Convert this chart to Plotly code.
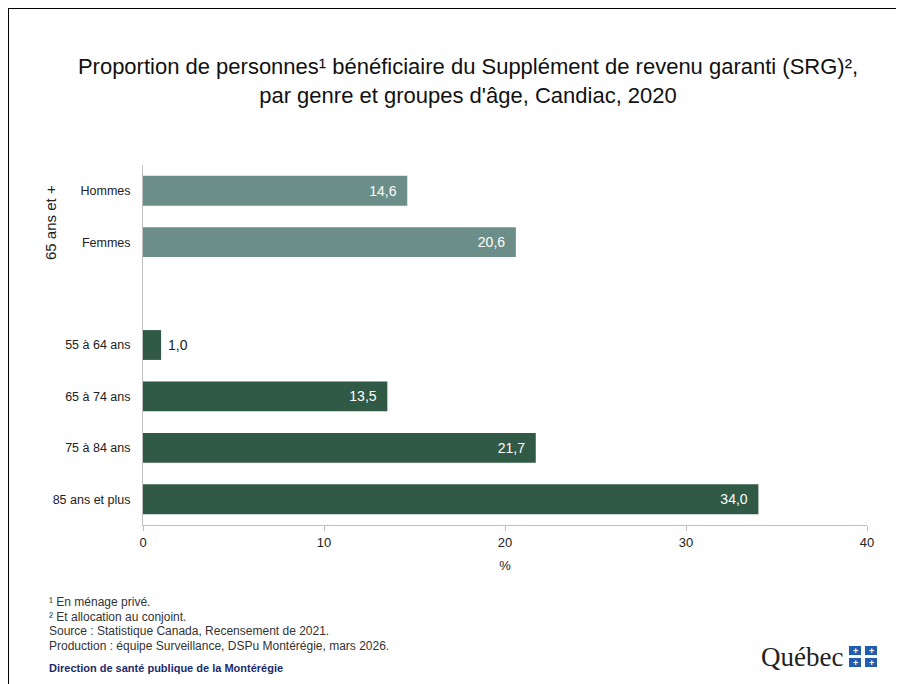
"""Proportion de personnes bénéficiaire du SRG, Candiac, 2020."""
import plotly.graph_objects as go

# Data
categories = ["Hommes", "Femmes", "", "55 à 64 ans", "65 à 74 ans", "75 à 84 ans", "85 ans et plus"]
values = [14.6, 20.6, None, 1.0, 13.5, 21.7, 34.0]
light_green = "#6b8f88"
dark_green = "#305a45"
bar_colors = [light_green, light_green, dark_green, dark_green, dark_green, dark_green, dark_green]
x_ticks = [0, 10, 20, 30, 40]

footnotes = [
    "¹ En ménage privé.",
    "² Et allocation au conjoint.",
    "Source : Statistique Canada, Recensement de 2021.",
    "Production : équipe Surveillance, DSPu Montérégie, mars 2026.",
]
footnote_y = [602, 617, 631, 646]

# Figure geometry (screen pixels). The page body adds an 8px offset.
OFF = 8
W, H = 904, 684
plot_left, plot_right, plot_top, plot_bottom = 143, 867, 165, 525
L = plot_left - OFF
R = W - (plot_right - OFF)
T = plot_top - OFF
B = H - (plot_bottom - OFF)
PW, PH = plot_right - plot_left, plot_bottom - plot_top


def px(x):
    return (x - plot_left) / PW


def py(y):
    return (plot_bottom - y) / PH


positions = list(range(len(categories)))
bar_x = [v for v in values if v is not None]
bar_y = [p for p, v in zip(positions, values) if v is not None]
colors = [c for c, v in zip(bar_colors, values) if v is not None]
nb = "\u00a0"
labels = [
    (nb + f"{v:.1f}".replace(".", ",")) if v < 5 else (f"{v:.1f}".replace(".", ",") + nb * 2)
    for v in bar_x
]
text_pos = ["outside" if v < 5 else "inside" for v in bar_x]
text_col = ["#222222" if v < 5 else "white" for v in bar_x]

fig = go.Figure()
fig.add_trace(go.Bar(
    x=bar_x,
    y=bar_y,
    orientation="h",
    marker=dict(color=colors, line=dict(width=0)),
    width=0.58,
    text=labels,
    textposition=text_pos,
    insidetextanchor="end",
    textfont=dict(color=text_col, size=14, family="Arial"),
    cliponaxis=False,
    hoverinfo="skip",
))

annotations = [
    dict(text="65 ans et +", textangle=-90, x=px(50), y=py(223),
         xref="paper", yref="paper", xanchor="center", yanchor="middle", showarrow=False,
         font=dict(size=15, color="#222222", family="Arial")),
    dict(text="<b>Direction de santé publique de la Montérégie</b>", x=px(47), y=py(668),
         xref="paper", yref="paper", xanchor="left", yanchor="middle", showarrow=False,
         font=dict(size=11, color="#1b2a6b", family="Arial")),
    dict(text="Québec", x=px(845), y=py(657), xref="paper", yref="paper",
         xanchor="right", yanchor="middle", showarrow=False,
         font=dict(size=27, color="#222222", family="Liberation Serif")),
]
for line, ly in zip(footnotes, footnote_y):
    annotations.append(dict(text=line, x=px(47), y=py(ly), xref="paper", yref="paper",
                            xanchor="left", yanchor="middle", showarrow=False,
                            font=dict(size=12, color="#333333", family="Arial")))

shapes = [
    # frame, cropped at right and bottom
    dict(type="rect", xref="paper", yref="paper", x0=px(8), y0=py(720), x1=px(940), y1=py(8),
         line=dict(color="black", width=2), fillcolor="rgba(0,0,0,0)", layer="below"),
]

# Québec flag logo: 4 blue squares
for sx, sy in [(849, 646), (865, 646), (849, 658), (865, 658)]:
    shapes.append(dict(type="rect", xref="paper", yref="paper",
                       x0=px(sx), x1=px(sx + 12), y0=py(sy + 9), y1=py(sy),
                       line=dict(width=0), fillcolor="#1f5eb0"))
    annotations.append(dict(text="<b>+</b>", x=px(sx + 6), y=py(sy + 4.5), xref="paper", yref="paper",
                            xanchor="center", yanchor="middle", showarrow=False,
                            font=dict(size=9, color="white", family="Arial")))

fig.update_layout(
    width=W,
    height=H,
    margin=dict(l=L, r=R, t=T, b=B),
    paper_bgcolor="white",
    plot_bgcolor="white",
    showlegend=False,
    title=dict(
        text="Proportion de personnes¹ bénéficiaire du Supplément de revenu garanti (SRG)²,"
             "<br>par genre et groupes d'âge, Candiac, 2020",
        x=(468 - OFF) / W, xanchor="center", xref="container",
        y=1 - (74 - OFF) / H, yanchor="top", yref="container",
        font=dict(size=22, color="#111111", family="Arial"),
    ),
    xaxis=dict(
        range=[0, 40],
        tickvals=x_ticks,
        ticks="outside",
        ticklen=5,
        tickcolor="#bfbfbf",
        showgrid=False,
        zeroline=False,
        showline=True,
        linecolor="#bfbfbf",
        linewidth=1,
        tickfont=dict(size=13, color="#222222", family="Arial"),
        title=dict(text="%", font=dict(size=13, color="#222222", family="Arial"), standoff=12),
    ),
    yaxis=dict(
        range=[len(categories) - 0.5, -0.5],
        tickvals=positions,
        ticktext=categories,
        ticks="",
        showgrid=False,
        zeroline=False,
        showline=True,
        linecolor="#bfbfbf",
        linewidth=1,
        ticklabelstandoff=9,
        tickfont=dict(size=12.5, color="#222222", family="Arial"),
    ),
    annotations=annotations,
    shapes=shapes,
    font=dict(family="Arial"),
)

fig.write_html("out.html")
